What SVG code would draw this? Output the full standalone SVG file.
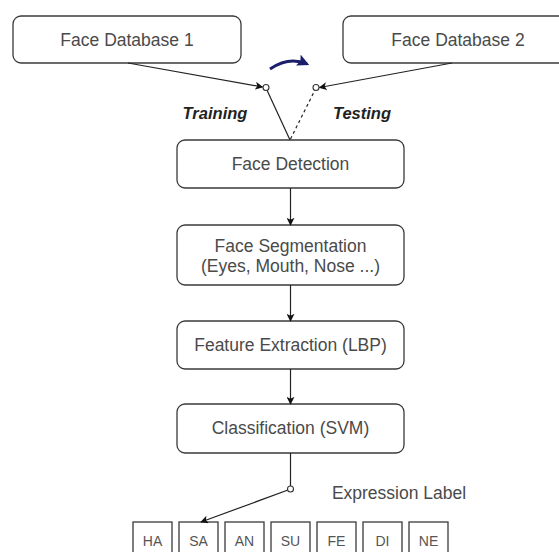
<svg xmlns="http://www.w3.org/2000/svg" width="559" height="552" viewBox="0 0 559 552">
<defs>
<style>
.box{fill:#fff;stroke:#3a3a3a;stroke-width:1.3}
.lbl{fill:#fff;stroke:#3a3a3a;stroke-width:1.3}
.t{font-family:"Liberation Sans",Arial,sans-serif;font-size:17.5px;fill:#4a4a4a;text-anchor:middle}
.s{font-family:"Liberation Sans",Arial,sans-serif;font-size:14px;fill:#555;text-anchor:middle}
.b{font-family:"Liberation Sans",Arial,sans-serif;font-size:16.5px;font-weight:bold;font-style:italic;fill:#222;text-anchor:middle}
.e{fill:none;stroke:#222;stroke-width:1.2}
.c{fill:#fff;stroke:#333;stroke-width:1.1}
</style>
<marker id="ah" viewBox="0 0 10 10" refX="9" refY="5" markerWidth="8" markerHeight="8" markerUnits="userSpaceOnUse" orient="auto">
<path d="M0,0 L10,5 L0,10 L2.5,5 Z" fill="#111"/>
</marker>
<marker id="bh" viewBox="0 0 10 10" refX="8" refY="5" markerWidth="12" markerHeight="12" markerUnits="userSpaceOnUse" orient="auto">
<path d="M0,0 L10,5 L0,10 L2,5 Z" fill="#1b1f6b"/>
</marker>
</defs>
<g id="db1"><rect class="box" x="13" y="16" width="228" height="47" rx="8"/><text class="t" x="127" y="46">Face Database 1</text></g>
<g id="db2"><rect class="box" x="343" y="16" width="228" height="47" rx="8"/><text class="t" x="458" y="46">Face Database 2</text></g>
<g id="detect"><rect class="box" x="177" y="140" width="227" height="48" rx="8"/><text class="t" x="290.5" y="170">Face Detection</text></g>
<g id="segment"><rect class="box" x="177" y="225" width="227" height="60" rx="8"/><text class="t" x="290.5" y="252">Face Segmentation</text><text class="t" x="290.5" y="272">(Eyes, Mouth, Nose ...)</text></g>
<g id="feature"><rect class="box" x="177" y="321" width="227" height="48" rx="8"/><text class="t" x="290.5" y="351">Feature Extraction (LBP)</text></g>
<g id="classify"><rect class="box" x="177" y="404" width="227" height="49" rx="8"/><text class="t" x="290.5" y="434">Classification (SVM)</text></g>
<g id="labels">
<text class="t" x="399" y="499">Expression Label</text>
<g id="ha"><rect class="lbl" x="133" y="522" width="39" height="36"/><text class="s" x="152.5" y="546">HA</text></g>
<g id="sa"><rect class="lbl" x="179" y="522" width="39" height="36"/><text class="s" x="198.5" y="546">SA</text></g>
<g id="an"><rect class="lbl" x="225" y="522" width="39" height="36"/><text class="s" x="244.5" y="546">AN</text></g>
<g id="su"><rect class="lbl" x="271" y="522" width="39" height="36"/><text class="s" x="290.5" y="546">SU</text></g>
<g id="fe"><rect class="lbl" x="317" y="522" width="39" height="36"/><text class="s" x="336.5" y="546">FE</text></g>
<g id="di"><rect class="lbl" x="363" y="522" width="39" height="36"/><text class="s" x="382.5" y="546">DI</text></g>
<g id="ne"><rect class="lbl" x="409" y="522" width="39" height="36"/><text class="s" x="428.5" y="546">NE</text></g>
</g>
<g id="connectors">
<line class="e" x1="128" y1="63" x2="262.5" y2="87" marker-end="url(#ah)"/>
<line class="e" x1="452" y1="63" x2="319.5" y2="87.5" marker-end="url(#ah)"/>
<line class="e" x1="266" y1="88" x2="290" y2="140"/>
<line class="e" x1="316" y1="88" x2="290" y2="140" stroke-dasharray="3,3"/>
<circle class="c" cx="266" cy="87.5" r="3"/>
<circle class="c" cx="316" cy="87.5" r="3"/>
<path d="M270,69 Q289,56 307,64" fill="none" stroke="#1b1f6b" stroke-width="3" marker-end="url(#bh)"/>
<text class="b" x="215" y="119">Training</text>
<text class="b" x="362" y="119">Testing</text>
<line class="e" x1="290.5" y1="188" x2="290.5" y2="225" marker-end="url(#ah)"/>
<line class="e" x1="290.5" y1="285" x2="290.5" y2="321" marker-end="url(#ah)"/>
<line class="e" x1="290.5" y1="369" x2="290.5" y2="404" marker-end="url(#ah)"/>
<line class="e" x1="290.5" y1="453" x2="290.5" y2="486"/>
<line class="e" x1="288" y1="490" x2="201" y2="522" marker-end="url(#ah)"/>
<circle class="c" cx="290.5" cy="489" r="3"/>
</g>
</svg>
